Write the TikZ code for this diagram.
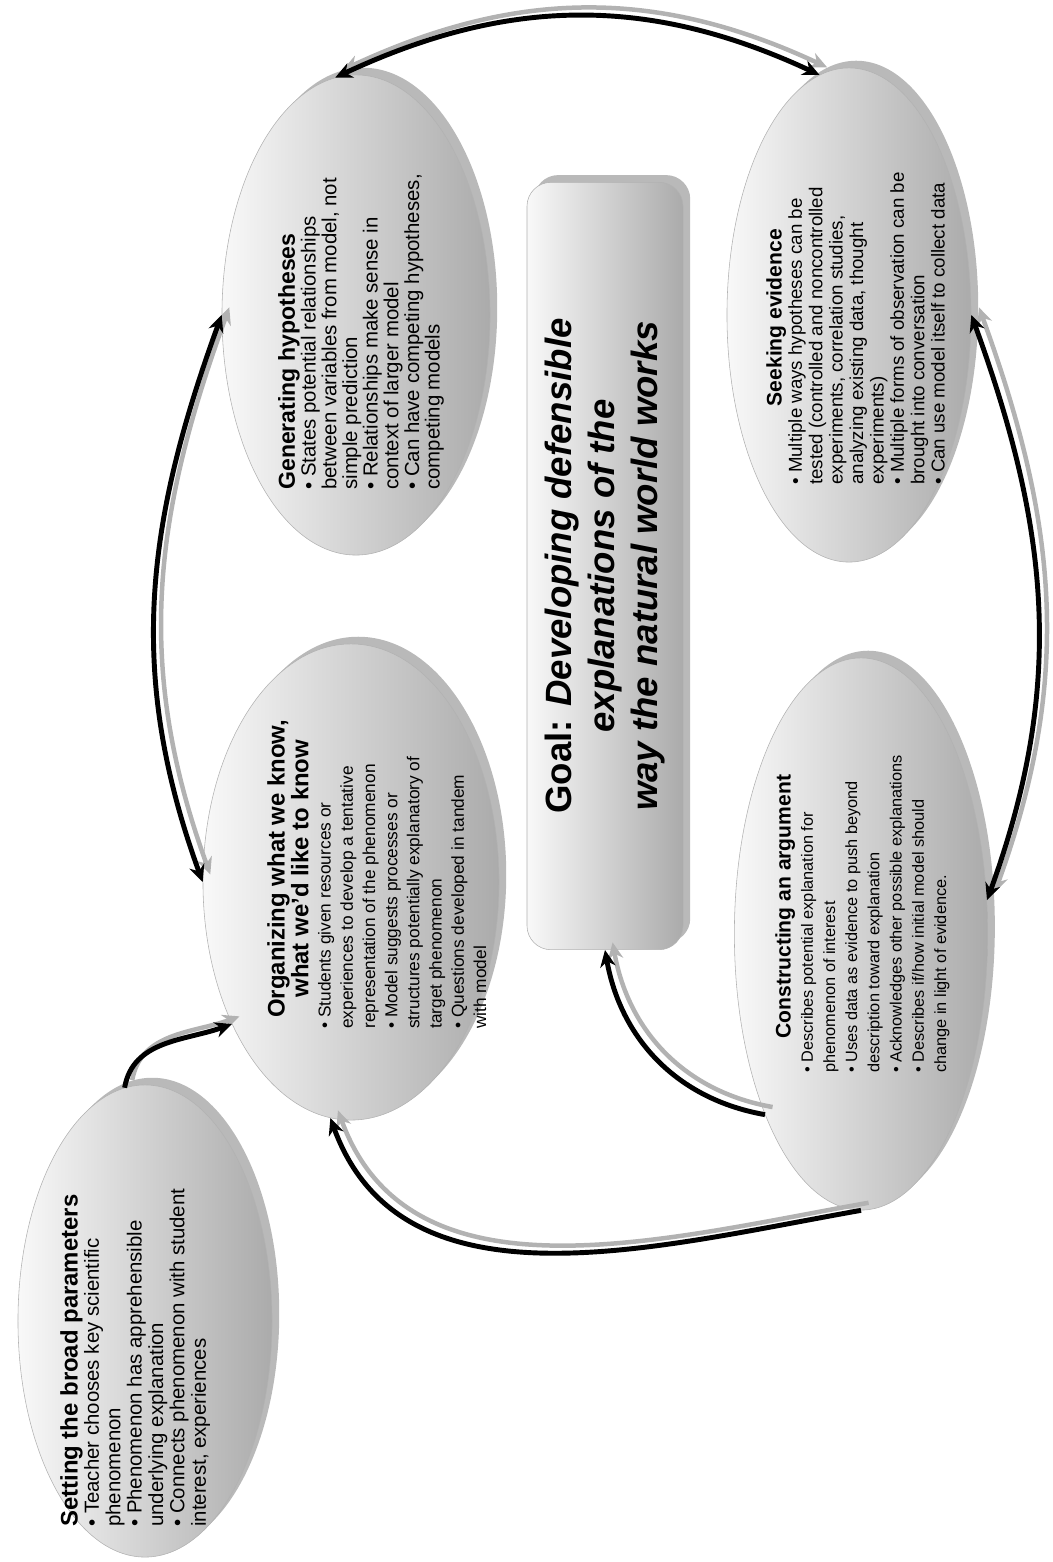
\documentclass[tikz,border=0pt]{standalone}
\usepackage{fontspec}
\setmainfont{Liberation Sans}
\usetikzlibrary{shapes.geometric,shadows,arrows.meta}
\newcommand\ribbonto[4]{%
    \draw[ribbonshade,#1] (#2) to[#3] (#4);
    \draw[ribbon,#1] (#2) to[#3] (#4);}
\begin{document}
\begin{tikzpicture}[x=0.025cm,y=0.025cm,
    >={Stealth[length=12pt,width=11pt]},
    blob/.style={ellipse,draw=gray!60,inner sep=0pt,left color=gray!5,right color=gray!66,
        drop shadow={shadow xshift=0.18cm,shadow yshift=0.18cm,fill=gray!55,opacity=1}},
    goalbox/.style={blob,rectangle,rounded corners=0.6cm},
    blobtext/.style={rotate=90,anchor=north west,inner sep=0pt,align=flush left,text width=#1},
    ribbon/.style={line width=3.5pt,draw=black},
    ribbonshade/.style={line width=3.2pt,draw=gray!60,transform canvas={shift={(0.19cm,0.19cm)}}}]
    \useasboundingbox (0,0) rectangle (1052,-1562);
        \node[blob,minimum width=6.35cm,minimum height=11.8cm](set) at (145,-1321){};
        \node[blob,minimum width=7.4cm,minimum height=11.9cm](org) at (351,-882){};
        \node[blob,minimum width=6.7cm,minimum height=12cm](gen) at (356,-315){};
        \node[blob,minimum width=6.1cm,minimum height=12.35cm](seek) at (849,-315){};
        \node[blob,minimum width=6.33cm,minimum height=13.8cm](cons) at (861,-934){};
        \node[goalbox,minimum width=3.9cm,minimum height=19.18cm](goal) at (605,-566){};

        \node[blobtext=9cm,font=\fontsize{14.5}{15.2}\selectfont](settext) at (60,-1527)
        {{\fontsize{17}{15.2}\selectfont\bfseries Setting the broad parameters}\\
        • Teacher chooses key scientific\\
        phenomenon\\
        • Phenomenon has apprehensible\\
        underlying explanation\\
        • Connects phenomenon with student\\
        interest, experiences};
        \node[blobtext=8cm,font=\fontsize{12.3}{15.8}\selectfont](orgtext) at (267,-1029)
        {{\centering\fontsize{17}{15.8}\selectfont\bfseries Organizing what we know,\\
        what we'd like to know\par}
        • Students given resources or\\
        experiences to develop a tentative\\
        representation of the phenomenon\\
        • Model suggests processes or\\
        structures potentially explanatory of\\
        target phenomenon\\
        • Questions developed in tandem\\
        with model};
        \node[blobtext=9cm,font=\fontsize{14.5}{14.7}\selectfont](gentext) at (278,-490)
        {{\fontsize{16.4}{14.7}\selectfont\bfseries Generating hypotheses}\\
        • States potential relationships\\
        between variables from model, not\\
        simple prediction\\
        • Relationships make sense in\\
        context of larger model\\
        • Can have competing hypotheses,\\
        competing models};
        \node[blobtext=8.35cm,font=\fontsize{13.3}{14.5}\selectfont](seektext) at (766,-485)
        {{\centering\fontsize{15}{14.5}\selectfont\bfseries Seeking evidence\par}
        • Multiple ways hypotheses can be\\
        tested (controlled and noncontrolled\\
        experiments, correlation studies,\\
        analyzing existing data, thought\\
        experiments)\\
        • Multiple forms of observation can be\\
        brought into conversation\\
        • Can use model itself to collect data};
        \node[blobtext=8.3cm,font=\fontsize{11.6}{15.8}\selectfont](constext) at (775,-1073)
        {{\centering\fontsize{15}{15.8}\selectfont\bfseries Constructing an argument\par}
        • Describes potential explanation for\\
        phenomenon of interest\\
        • Uses data as evidence to push beyond\\
        description toward explanation\\
        • Acknowledges other possible explanations\\
        • Describes if/how initial model should\\
        change in light of evidence.};
        \node[rotate=90,align=center,inner sep=0pt,font=\fontsize{26}{30.5}\selectfont\bfseries](goaltext) at (605,-566)
        {Goal: \textit{Developing defensible}\\
        \textit{explanations of the}\\
        \textit{way the natural world works}};

        \ribbonto{<->}{gen.95}{out=25,in=155}{seek.97}
        \ribbonto{<->}{gen.west}{out=-110,in=110}{org.west}
        \ribbonto{<->}{seek.east}{out=-70,in=70}{cons.15}
        \ribbonto{->}{cons.south}{out=190,in=-70}{org.265}
        \ribbonto{->}{set.95}{out=80,in=200}{org.230}
        \ribbonto{->}{cons.242}{out=170,in=-80}{goal.south}
    \end{tikzpicture}
\end{document}
